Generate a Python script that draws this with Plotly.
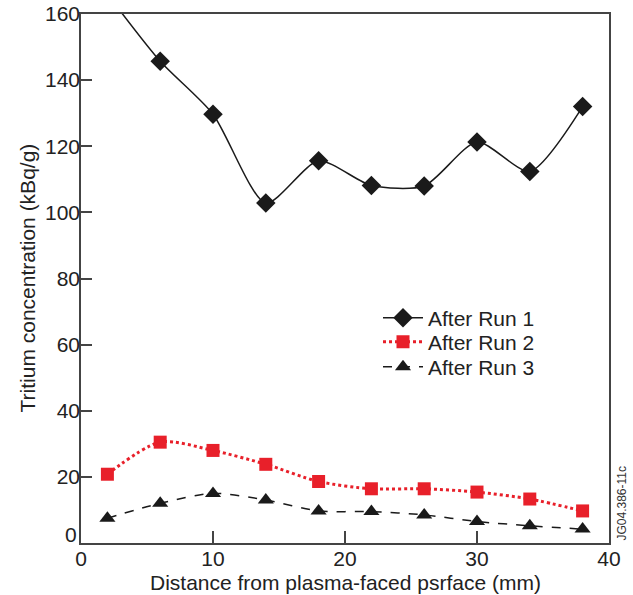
import plotly.graph_objects as go

distance = [2, 6, 10, 14, 18, 22, 26, 30, 34, 38]
run1 = [166, 145.7, 129.7, 102.8, 115.6, 108.1, 108.0, 121.3, 112.4, 132.0]
run2 = [20.8, 30.5, 28.0, 23.8, 18.6, 16.4, 16.4, 15.4, 13.3, 9.7]
run3 = [7.5, 12.0, 15.0, 13.0, 9.7, 9.5, 8.5, 6.5, 5.2, 4.2]

x_ticks = [0, 10, 20, 30, 40]
y_ticks = [0, 20, 40, 60, 80, 100, 120, 140, 160]
y_ticktext = ["" if v == 0 else str(v) for v in y_ticks]

FONT = "Liberation Sans, Arial, sans-serif"
RED = "#e8202a"
BLACK = "#1a1a1a"
TEXT = "#222"

fig = go.Figure()
fig.add_trace(go.Scatter(
    x=distance, y=run1, name="After Run 1", mode="lines+markers", legend="legend",
    line=dict(color=BLACK, width=1.5, shape="spline", smoothing=0.7),
    marker=dict(symbol="diamond", size=15, color=BLACK),
))
fig.add_trace(go.Scatter(
    x=distance, y=run2, name="After Run 2", mode="lines+markers", legend="legend2",
    line=dict(color=RED, width=3, dash="dot", shape="spline", smoothing=0.8),
    marker=dict(symbol="square", size=13, color=RED),
))
fig.add_trace(go.Scatter(
    x=distance, y=run3, name="After Run 3", mode="lines+markers", legend="legend3",
    line=dict(color=BLACK, width=1.5, dash="dash", shape="spline", smoothing=0.8),
    marker=dict(symbol="triangle-up", size=14, color=BLACK),
))

def leg(y):
    return dict(x=0.5625, y=y, xanchor="left", yanchor="middle",
                bgcolor="rgba(0,0,0,0)", font=dict(size=21, family=FONT, color=TEXT),
                itemwidth=40)

fig.update_layout(
    width=633, height=595,
    margin=dict(l=81, r=24, t=14, b=52),
    paper_bgcolor="white", plot_bgcolor="white",
    font=dict(family=FONT, color=TEXT, size=21),
    showlegend=True,
    legend=leg(0.4253),
    legend2=leg(0.380),
    legend3=leg(0.3327),
    xaxis=dict(range=[0, 40], tickvals=x_ticks, ticks="inside", ticklen=12,
               tickcolor="#444", tickwidth=1.5, showgrid=False, zeroline=False,
               showline=True, linecolor="#444", linewidth=1.5, mirror=True,
               ticklabelstandoff=-4,
               tickfont=dict(size=21, family=FONT), automargin=False),
    yaxis=dict(range=[0, 160], tickvals=y_ticks, ticktext=y_ticktext,
               ticks="inside", ticklen=11,
               tickcolor="#444", tickwidth=1.5, showgrid=False, zeroline=False,
               showline=True, linecolor="#444", linewidth=1.5, mirror=True,
               ticklabelstandoff=-5,
               tickfont=dict(size=21, family=FONT), automargin=False),
)

# y-axis "0" label sits slightly raised above the x-axis labels, as in the reference
fig.add_annotation(text=str(y_ticks[0]), xref="paper", yref="y", x=0, y=y_ticks[0],
                   xanchor="right", yanchor="middle", xshift=-2, yshift=9,
                   showarrow=False, font=dict(size=21, family=FONT, color=TEXT))

fig.add_annotation(text="Distance from plasma-faced psrface (mm)", xref="paper", yref="paper",
                   x=0.5, y=0, yshift=-39, xanchor="center", yanchor="middle",
                   showarrow=False, font=dict(size=21, family=FONT, color=TEXT))
fig.add_annotation(text="Tritium concentration (kBq/g)", xref="paper", yref="paper",
                   x=0, xshift=-54, y=0.5, xanchor="center", yanchor="middle",
                   textangle=-90, showarrow=False, font=dict(size=21, family=FONT, color=TEXT))

fig.add_annotation(text="JG04.386-11c", xref="paper", yref="paper",
                   x=1.0, y=0.0, xanchor="left", yanchor="bottom", xshift=3,
                   textangle=-90, showarrow=False,
                   font=dict(size=12, family=FONT, color="#333"))

fig.write_html("out.html")
